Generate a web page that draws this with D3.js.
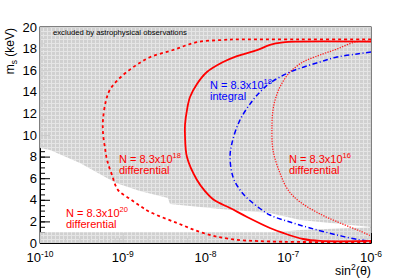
<!DOCTYPE html>
<html>
<head>
<meta charset="utf-8">
<script src="https://cdn.jsdelivr.net/npm/d3@7"></script>
<style>
body { margin: 0; background: #fff; }
text { font-family: "Liberation Sans", Arial, Helvetica, sans-serif; }
</style>
</head>
<body>
<svg id="chart" width="413" height="280"></svg>
<script>
// axis ticks
const xTickVals = [1e-10, 1e-9, 1e-8, 1e-7, 1e-6];
const xTickExp = ["-10", "-9", "-8", "-7", "-6"];
const yTickVals = [0, 2, 4, 6, 8, 10, 12, 14, 16, 18, 20];

// excluded by astrophysical observations (upper edge of the white band)
const astroSin2 = [1e-10, 1.32e-10, 3.04e-10, 8.28e-10, 1.61e-9, 3.52e-9, 3.72e-9, 1.50e-8, 6.01e-8, 1.39e-7, 1e-6];
const astroMass = [8.8, 8.61, 7.41, 5.56, 4.81, 4.17, 3.61, 3.15, 2.78, 2.13, 1.48];
// lower excluded band
const lowSin2 = [1e-10, 7e-8, 1.4e-7, 1e-6];
const lowMass = [1.0, 1.0, 1.2, 1.45];

// N = 8.3x10^20 differential (dashed)
const n20Sin2 = [1e-6, 1.39e-7, 2.27e-8, 1.63e-8, 7.89e-9, 4.05e-9, 2.13e-9, 1.41e-9, 9.27e-10, 7.01e-10, 6.28e-10, 5.77e-10, 5.77e-10, 6.10e-10, 6.46e-10, 7.41e-10, 8.77e-10, 1.23e-9, 1.62e-9, 2.13e-9, 4.53e-9, 9.33e-9, 1.98e-8, 6.03e-8, 1e-6];
const n20Mass = [18.85, 18.85, 18.85, 18.8, 18.6, 17.87, 17.2, 16.4, 15.3, 14.2, 13.2, 11.4, 10.2, 8.8, 7.7, 6.3, 4.9, 4.07, 3.43, 2.87, 1.85, 0.93, 0.37, 0.14, 0.09];
// N = 8.3x10^18 differential (solid)
const n18dSin2 = [1e-6, 1.28e-7, 8.65e-8, 6.01e-8, 4.19e-8, 2.40e-8, 1.63e-8, 1.04e-8, 7.89e-9, 6.50e-9, 5.97e-9, 5.65e-9, 5.65e-9, 5.97e-9, 7.89e-9, 9.86e-9, 1.27e-8, 1.98e-8, 3.18e-8, 6.01e-8, 8.65e-8, 1.51e-7, 2.42e-7, 1e-6];
const n18dMass = [18.65, 18.65, 18.58, 18.35, 17.85, 17.31, 16.76, 15.83, 14.72, 13.52, 12.31, 10.93, 10.0, 7.96, 5.83, 4.81, 3.98, 3.24, 2.41, 1.39, 0.93, 0.37, 0.19, 0.19];
// N = 8.3x10^18 integral (dash-dot, blue)
const n18iSin2 = [1e-6, 6.78e-7, 3.88e-7, 2.42e-7, 1.05e-7, 6.01e-8, 4.82e-8, 3.75e-8, 2.61e-8, 2.09e-8, 1.98e-8, 2.15e-8, 2.61e-8, 3.18e-8, 4.31e-8, 6.01e-8, 1.05e-7, 1.83e-7, 3.88e-7, 7.36e-7, 1e-6];
const n18iMass = [17.69, 17.5, 17.22, 16.76, 15.83, 14.81, 14.17, 13.24, 11.39, 9.26, 7.96, 6.11, 4.91, 4.17, 3.33, 2.59, 1.94, 1.39, 0.74, 0.28, 0.19];
// N = 8.3x10^16 differential (dotted)
const n16Sin2 = [1e-6, 6.41e-7, 3.88e-7, 2.42e-7, 1.51e-7, 1.05e-7, 8.17e-8, 7.11e-8, 6.54e-8, 6.36e-8, 6.54e-8, 7.94e-8, 9.93e-8, 1.39e-7, 2.42e-7, 4.22e-7, 7.36e-7, 1e-6];
const n16Mass = [18.7, 18.61, 17.96, 17.41, 16.76, 15.83, 14.63, 13.52, 12.31, 10.93, 8.61, 6.48, 4.91, 3.80, 2.69, 1.85, 1.11, 0.65];

const svg = d3.select("#chart");
const fLeft = 40, fRight = 371, fTop = 27, fBottom = 243;

const x = d3.scaleLog().domain([1e-10, 1e-6]).range([fLeft, fRight]);
const y = d3.scaleLinear().domain([0, 20]).range([fBottom, fTop]);

// pattern for the excluded regions
const defs = svg.append("defs");
const pat = defs.append("pattern").attr("id", "grayfill")
  .attr("width", 4).attr("height", 4).attr("patternUnits", "userSpaceOnUse");
pat.append("rect").attr("width", 4).attr("height", 4).attr("fill", "#e3e3e3").attr("opacity", 0.9);
pat.append("rect").attr("width", 3).attr("height", 3).attr("fill", "#d0d0d0");

// frame
svg.append("rect").attr("x", fLeft).attr("y", fTop)
  .attr("width", fRight - fLeft).attr("height", fBottom - fTop)
  .attr("fill", "none").attr("stroke", "#000");

// y axis, minor then major
svg.append("g").attr("transform", `translate(${fLeft},0)`)
  .call(d3.axisLeft(y).tickValues(d3.range(0, 20.01, 0.5)).tickSize(-5).tickFormat(""))
  .call(g => g.select(".domain").remove());
const yAx = svg.append("g").attr("transform", `translate(${fLeft},0)`)
  .call(d3.axisLeft(y).tickValues(yTickVals).tickSizeInner(-10).tickSizeOuter(0).tickPadding(3));
yAx.selectAll("text").attr("font-size", 13).attr("font-family", "Liberation Sans, Arial, sans-serif");

// x axis, minor then major
svg.append("g").attr("transform", `translate(0,${fBottom})`)
  .call(d3.axisBottom(x).tickValues(x.ticks()).tickSize(-5).tickFormat(""))
  .call(g => g.select(".domain").remove());
svg.append("g").attr("transform", `translate(0,${fBottom})`)
  .call(d3.axisBottom(x).tickValues(xTickVals).tickSizeInner(-10).tickSizeOuter(0).tickFormat(""));

xTickVals.forEach((v, i) => {
  const t = svg.append("text").attr("x", x(v)).attr("y", 262)
    .attr("text-anchor", "middle").attr("font-size", 13);
  t.append("tspan").text("10");
  t.append("tspan").attr("dy", -5).attr("font-size", 8.5).text(xTickExp[i]);
});

// excluded regions
const poly = d3.line().x(d => x(d[0])).y(d => y(d[1]));
const upper = [[1e-10, 20], [1e-6, 20]].concat(d3.zip(astroSin2, astroMass).reverse());
svg.append("path").attr("d", poly(upper) + "Z").attr("fill", "url(#grayfill)");
const lower = [[1e-10, 0], [1e-6, 0]].concat(d3.zip(lowSin2, lowMass).reverse());
svg.append("path").attr("d", poly(lower) + "Z").attr("fill", "url(#grayfill)");

// sensitivity curves
const curve = d3.line().x(d => x(d[0])).y(d => y(d[1])).curve(d3.curveCatmullRom.alpha(0.5));
function drawCurve(xs, ys, color, width, dash) {
  svg.append("path").datum(d3.zip(xs, ys))
    .attr("d", curve).attr("fill", "none")
    .attr("stroke", color).attr("stroke-width", width)
    .attr("stroke-dasharray", dash);
}
drawCurve(n16Sin2, n16Mass, "#ff2020", 1.3, "1.3,1.3");
drawCurve(n18iSin2, n18iMass, "#0000ff", 1.5, "5,2.5,1,2.5");
drawCurve(n20Sin2, n20Mass, "#ff0000", 1.8, "3,3");
drawCurve(n18dSin2, n18dMass, "#ff0000", 1.8, null);

// labels
svg.append("text").attr("x", 53).attr("y", 35).attr("font-size", 7.7)
  .text("excluded by astrophysical observations");

function note(px, py, exp, second, color) {
  const t = svg.append("text").attr("x", px).attr("y", py).attr("font-size", 11).attr("fill", color);
  t.append("tspan").text("N = 8.3x10");
  t.append("tspan").attr("dy", -5).attr("font-size", 7.5).text(exp);
  svg.append("text").attr("x", px).attr("y", py + 11).attr("font-size", 11).attr("fill", color).text(second);
}
note(210, 89, "18", "integral", "#0000ff");
note(119, 163, "18", "differential", "#ff0000");
note(289, 163, "16", "differential", "#ff0000");
note(66, 217, "20", "differential", "#ff0000");

// axis titles
const xt = svg.append("text").attr("x", fRight).attr("y", 275).attr("text-anchor", "end").attr("font-size", 12.5);
xt.append("tspan").text("sin");
xt.append("tspan").attr("dy", -5).attr("font-size", 8.5).text("2");
xt.append("tspan").attr("dy", 5).text("(θ)");

const yt = svg.append("text").attr("transform", `translate(14,${fTop + 1}) rotate(-90)`)
  .attr("text-anchor", "end").attr("font-size", 12);
yt.append("tspan").text("m");
yt.append("tspan").attr("dy", 3).attr("font-size", 8.5).text("s");
yt.append("tspan").attr("dy", -3).text(" (keV)");
</script>
</body>
</html>
